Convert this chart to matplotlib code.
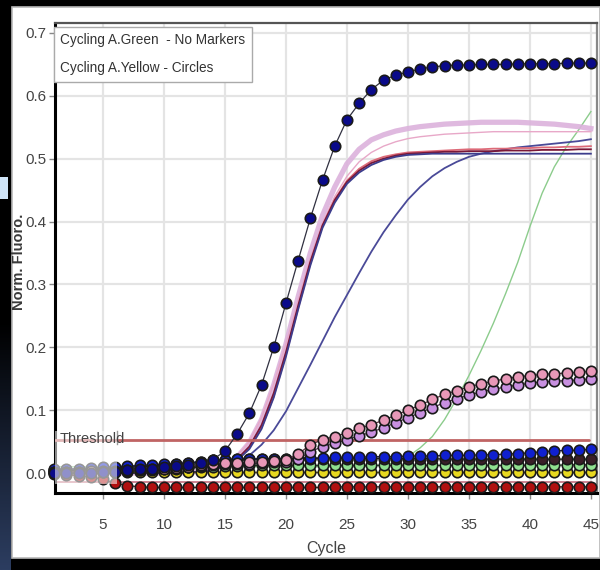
import matplotlib
matplotlib.use('Agg')
import matplotlib.pyplot as plt
from matplotlib.patches import Rectangle
from matplotlib.colors import LinearSegmentedColormap
import numpy as np

plt.rcParams['font.family'] = ['Liberation Sans', 'DejaVu Sans']

cycles = list(range(1, 46))

# ---- Yellow channel samples (circles) ----
yel_navy = [0.000, 0.000, 0.000, 0.000, 0.001,
            0.002, 0.004, 0.006, 0.007, 0.009,
            0.011, 0.013, 0.016, 0.021, 0.035,
            0.062, 0.095, 0.140, 0.200, 0.270,
            0.338, 0.405, 0.466, 0.520, 0.562,
            0.588, 0.610, 0.625, 0.633, 0.638,
            0.643, 0.646, 0.648, 0.649, 0.649,
            0.650, 0.650, 0.650, 0.651, 0.651,
            0.651, 0.651, 0.652, 0.652, 0.652]
yel_pink = [0.002, 0.002, 0.002, 0.003, 0.003,
            0.003, 0.004, 0.005, 0.006, 0.007,
            0.008, 0.010, 0.012, 0.014, 0.016,
            0.016, 0.017, 0.018, 0.019, 0.021,
            0.030, 0.045, 0.053, 0.058, 0.064,
            0.071, 0.077, 0.084, 0.092, 0.100,
            0.108, 0.117, 0.125, 0.131, 0.137,
            0.142, 0.146, 0.150, 0.153, 0.155,
            0.157, 0.158, 0.159, 0.160, 0.162]
yel_violet = [0.001, 0.001, 0.001, 0.002, 0.002,
              0.002, 0.003, 0.004, 0.005, 0.006,
              0.007, 0.009, 0.011, 0.012, 0.014,
              0.014, 0.015, 0.016, 0.017, 0.018,
              0.022, 0.034, 0.042, 0.047, 0.053,
              0.059, 0.065, 0.072, 0.080, 0.088,
              0.096, 0.104, 0.112, 0.118, 0.124,
              0.129, 0.133, 0.137, 0.140, 0.143,
              0.145, 0.146, 0.147, 0.148, 0.150]
yel_blue = [0.006, 0.006, 0.007, 0.008, 0.009,
            0.010, 0.011, 0.012, 0.013, 0.014,
            0.015, 0.016, 0.018, 0.020, 0.021,
            0.022, 0.022, 0.023, 0.023, 0.023,
            0.024, 0.024, 0.024, 0.025, 0.025,
            0.025, 0.026, 0.026, 0.026, 0.027,
            0.027, 0.027, 0.028, 0.028, 0.028,
            0.029, 0.029, 0.030, 0.031, 0.032,
            0.034, 0.035, 0.036, 0.036, 0.038]
yel_black = [0.004, 0.004, 0.005, 0.006, 0.007,
             0.008, 0.009, 0.010, 0.011, 0.012,
             0.014, 0.016, 0.018, 0.020, 0.021,
             0.022, 0.022, 0.022, 0.023, 0.023,
             0.023, 0.023, 0.023, 0.023, 0.023,
             0.023, 0.023, 0.023, 0.023, 0.023,
             0.023, 0.023, 0.022, 0.022, 0.022,
             0.022, 0.022, 0.022, 0.022, 0.022,
             0.022, 0.022, 0.022, 0.022, 0.022]
yel_green = [0.004, 0.004, 0.004, 0.005, 0.005,
             0.006, 0.006, 0.007, 0.007, 0.008,
             0.008, 0.009, 0.009, 0.010, 0.011,
             0.011, 0.012, 0.012, 0.012, 0.012,
             0.012, 0.012, 0.012, 0.012, 0.012,
             0.012, 0.012, 0.012, 0.012, 0.012,
             0.012, 0.012, 0.012, 0.012, 0.012,
             0.012, 0.012, 0.012, 0.012, 0.012,
             0.012, 0.012, 0.013, 0.013, 0.013]
yel_yellow = [0.002, 0.002, 0.002, 0.002, 0.002,
              0.002, 0.002, 0.002, 0.002, 0.002,
              0.002, 0.002, 0.002, 0.002, 0.002,
              0.002, 0.002, 0.002, 0.002, 0.002,
              0.002, 0.002, 0.002, 0.002, 0.002,
              0.002, 0.002, 0.002, 0.002, 0.002,
              0.002, 0.002, 0.002, 0.002, 0.002,
              0.002, 0.002, 0.002, 0.002, 0.002,
              0.002, 0.002, 0.002, 0.002, 0.002]
yel_red = [-0.002, -0.003, -0.004, -0.006, -0.010,
           -0.016, -0.020, -0.022, -0.023, -0.023,
           -0.023, -0.023, -0.023, -0.023, -0.023,
           -0.023, -0.023, -0.023, -0.023, -0.023,
           -0.023, -0.023, -0.023, -0.022, -0.022,
           -0.022, -0.022, -0.022, -0.022, -0.022,
           -0.022, -0.022, -0.022, -0.022, -0.022,
           -0.022, -0.022, -0.022, -0.022, -0.022,
           -0.022, -0.022, -0.022, -0.022, -0.022]

# ---- Green channel samples (no markers) ----
grn_pink_band = [0.000, 0.000, 0.000, 0.000, 0.000,
                 0.000, 0.000, 0.000, 0.000, 0.000,
                 0.000, 0.001, 0.003, 0.006, 0.012,
                 0.025, 0.048, 0.085, 0.140, 0.205,
                 0.280, 0.350, 0.410, 0.455, 0.492,
                 0.515, 0.530, 0.538, 0.544, 0.548,
                 0.551, 0.553, 0.555, 0.556, 0.557,
                 0.558, 0.558, 0.558, 0.558, 0.557,
                 0.556, 0.555, 0.553, 0.551, 0.548]
grn_navy = [0.000, 0.000, 0.000, 0.000, 0.000,
            0.000, 0.000, 0.000, 0.000, 0.000,
            0.000, 0.001, 0.002, 0.005, 0.010,
            0.020, 0.038, 0.070, 0.120, 0.185,
            0.260, 0.330, 0.390, 0.430, 0.460,
            0.478, 0.490, 0.498, 0.503, 0.506,
            0.507, 0.508, 0.508, 0.508, 0.508,
            0.508, 0.508, 0.508, 0.508, 0.508,
            0.508, 0.508, 0.508, 0.508, 0.508]
grn_maroon = [0.000, 0.000, 0.000, 0.000, 0.000,
              0.000, 0.000, 0.000, 0.000, 0.000,
              0.000, 0.001, 0.002, 0.005, 0.011,
              0.022, 0.042, 0.076, 0.127, 0.192,
              0.266, 0.336, 0.394, 0.434, 0.463,
              0.481, 0.493, 0.500, 0.505, 0.508,
              0.509, 0.510, 0.511, 0.511, 0.512,
              0.512, 0.512, 0.513, 0.513, 0.513,
              0.514, 0.514, 0.514, 0.515, 0.515]
grn_red = [0.000, 0.000, 0.000, 0.000, 0.000,
           0.000, 0.000, 0.000, 0.000, 0.000,
           0.000, 0.001, 0.002, 0.005, 0.010,
           0.021, 0.040, 0.072, 0.122, 0.188,
           0.262, 0.333, 0.393, 0.435, 0.465,
           0.484, 0.496, 0.503, 0.507, 0.510,
           0.511, 0.512, 0.513, 0.514, 0.515,
           0.515, 0.516, 0.516, 0.517, 0.517,
           0.518, 0.518, 0.519, 0.519, 0.520]
grn_pink_thin = [0.000, 0.000, 0.000, 0.000, 0.000,
                 0.000, 0.000, 0.000, 0.000, 0.000,
                 0.000, 0.001, 0.003, 0.006, 0.013,
                 0.027, 0.050, 0.088, 0.142, 0.205,
                 0.275, 0.342, 0.398, 0.440, 0.472,
                 0.495, 0.510, 0.520, 0.527, 0.532,
                 0.535, 0.537, 0.539, 0.540, 0.541,
                 0.542, 0.543, 0.543, 0.543, 0.543,
                 0.543, 0.543, 0.543, 0.543, 0.543]
grn_slate = [0.000, 0.000, 0.000, 0.000, 0.000,
             0.000, 0.000, 0.000, 0.000, 0.000,
             0.000, 0.001, 0.002, 0.005, 0.010,
             0.017, 0.028, 0.045, 0.068, 0.098,
             0.135, 0.172, 0.210, 0.248, 0.283,
             0.318, 0.352, 0.383, 0.410, 0.435,
             0.455, 0.472, 0.485, 0.495, 0.503,
             0.508, 0.512, 0.515, 0.518, 0.520,
             0.522, 0.524, 0.526, 0.528, 0.531]
grn_green = [0.010, 0.010, 0.010, 0.010, 0.010,
             0.010, 0.010, 0.010, 0.010, 0.010,
             0.010, 0.010, 0.010, 0.010, 0.010,
             0.010, 0.010, 0.010, 0.010, 0.010,
             0.010, 0.010, 0.010, 0.010, 0.010,
             0.010, 0.011, 0.013, 0.017, 0.026,
             0.040, 0.058, 0.085, 0.118, 0.155,
             0.195, 0.238, 0.285, 0.335, 0.392,
             0.445, 0.487, 0.519, 0.546, 0.575]
grn_negative = [-0.014] * 45

threshold = 0.053
x_ticks = [5, 10, 15, 20, 25, 30, 35, 40, 45]
y_ticks = [0.0, 0.1, 0.2, 0.3, 0.4, 0.5, 0.6, 0.7]

W, H = 600, 570
fig = plt.figure(figsize=(W / 100, H / 100), dpi=100, facecolor='black')

# white panel (behind everything)
fig.patches.append(Rectangle((12 / W, 1 - 558 / H), (W - 12) / W, (558 - 7) / H,
                             transform=fig.transFigure, facecolor='white',
                             edgecolor='#b8b8b8', linewidth=1.2, zorder=-10))
# light blue patch
fig.patches.append(Rectangle((0, 1 - 199 / H), 8 / W, 22 / H,
                             transform=fig.transFigure, facecolor='#cfe4f7',
                             edgecolor='none', zorder=-9))
# left dark-blue gradient strip
gax = fig.add_axes([0, 0, 11 / W, 250 / H], zorder=-8)
grad = np.linspace(0, 1, 100).reshape(-1, 1)
cm = LinearSegmentedColormap.from_list('g', ['#2c3d60', '#000000'])
gax.imshow(grad, aspect='auto', cmap=cm, origin='lower')
gax.axis('off')

ax = fig.add_axes([55 / W, 1 - 493 / H, (597 - 55) / W, (493 - 23) / H], zorder=5)
ax.set_facecolor('white')

# Green channel lines
ax.plot(cycles, grn_negative, color='#c87a88', lw=1.3, zorder=2)
ax.plot(cycles, grn_green, color='#8ccc8c', lw=1.0, zorder=2)
ax.plot(cycles, grn_pink_band, color='#dcb2dc', lw=3.8, alpha=0.9, zorder=2)
ax.plot(cycles, grn_pink_thin, color='#e8a8c8', lw=1.0, zorder=2)
ax.plot(cycles, grn_slate, color='#4a4a98', lw=1.3, zorder=2)
ax.plot(cycles, grn_red, color='#dd6a78', lw=1.3, zorder=2)
ax.plot(cycles, grn_maroon, color='#7a1838', lw=1.3, zorder=2)
ax.plot(cycles, grn_navy, color='#3c3c8c', lw=1.3, zorder=2)

# Threshold
ax.axhline(threshold, xmin=0, xmax=0.985, color='#c06464', lw=2, zorder=3,
           solid_capstyle='round')

# Yellow channel marker series
mk = dict(marker='o', markersize=7.5, markeredgecolor='#1a1a1a', mew=1.2, lw=0.9)
series = [
    (yel_red, '#b01010', '#5a1010'),
    (yel_yellow, '#e8d820', '#6a6010'),
    (yel_green, '#90e090', '#205020'),
    (yel_black, '#3a1e28', '#202020'),
    (yel_blue, '#1020d0', '#101060'),
    (yel_violet, '#c890e0', '#503050'),
    (yel_pink, '#e898b8', '#603040'),
    (yel_navy, '#0a0a8a', '#303040'),
]
for i, (vals, fc, lc) in enumerate(series):
    ax.plot(cycles, vals, color=lc, markerfacecolor=fc, zorder=4 + i * 0.1,
            clip_on=False, **mk)

ax.set_xlim(1.07, 45.5)
ax.set_ylim(-0.0318, 0.7159)
ax.set_xticks(x_ticks)
ax.set_yticks(y_ticks)
ax.set_yticklabels(['%.1f' % v for v in y_ticks])
ax.grid(True, color='#e4e4e4', lw=1.6, zorder=0)
ax.set_axisbelow(True)
ax.tick_params(axis='both', colors='#888888', labelcolor='#444444', labelsize=11,
               length=4, width=1)
ax.tick_params(axis='x', pad=14)
ax.tick_params(axis='y', pad=2)

for s in ['left', 'bottom']:
    ax.spines[s].set_color('black')
    ax.spines[s].set_linewidth(2.2)
ax.spines['top'].set_color('#555555')
ax.spines['top'].set_linewidth(1.6)
ax.spines['right'].set_color('#888888')
ax.spines['right'].set_linewidth(1.6)

# Threshold label box (semi-transparent)
ax.add_patch(Rectangle((0, 0.02), 0.115, 0.112,
                       transform=ax.transAxes, facecolor='white', alpha=0.55,
                       edgecolor='none', zorder=6))
ax.plot([0.115, 0.115], [0.105, 0.132], transform=ax.transAxes,
        color='#999999', lw=1, zorder=6)
ax.text(0.008, 0.100, 'Threshold', transform=ax.transAxes, fontsize=10.5,
        color='#444444', ha='left', va='bottom', zorder=7)

# Legend box
ax.text(0.010, 0.978, 'Cycling A.Green  - No Markers\nCycling A.Yellow - Circles',
        transform=ax.transAxes, ha='left', va='top', fontsize=9.8,
        color='#333333', linespacing=2.25, zorder=8,
        bbox=dict(boxstyle='square,pad=0.5', facecolor='white',
                  edgecolor='#aaaaaa', lw=1))

fig.text(19 / W, 1 - 262 / H, 'Norm. Fluoro.', rotation=90, ha='center',
         va='center', fontsize=10.5, fontweight='bold', color='#3a3a3a')
fig.text(326 / W, 1 - 548 / H, 'Cycle', ha='center', va='center',
         fontsize=11.5, color='#444444')

fig.savefig('out.png', dpi=100, facecolor=fig.get_facecolor())
